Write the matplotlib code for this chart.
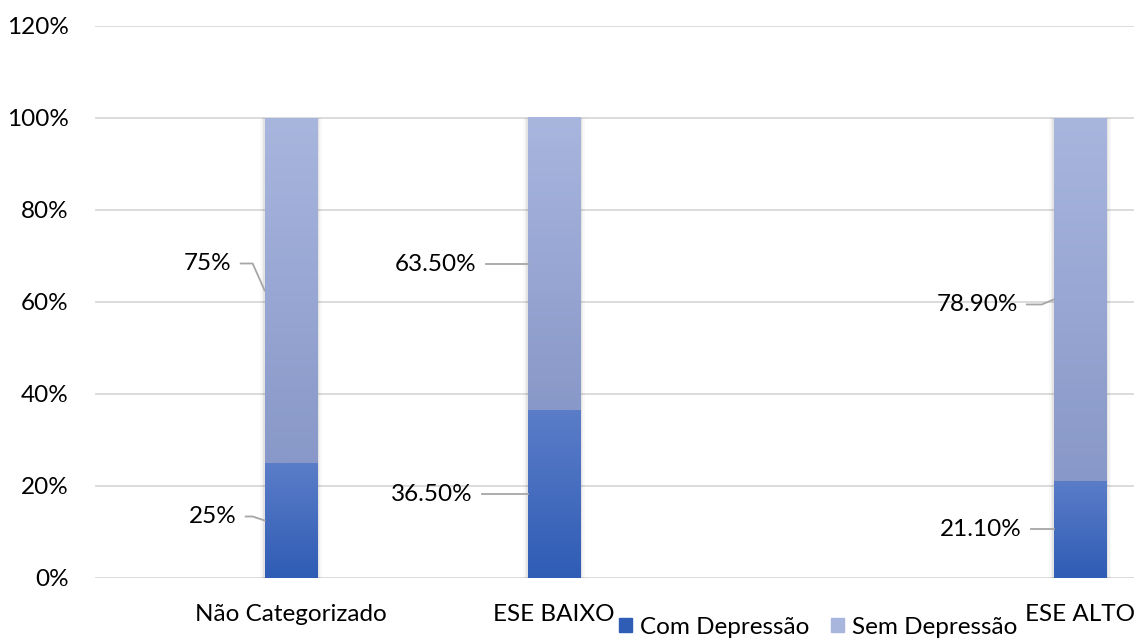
import numpy as np
import matplotlib
matplotlib.use("Agg")
import matplotlib.pyplot as plt
from matplotlib.patches import Rectangle, Patch
from matplotlib.transforms import offset_copy

plt.rcParams['font.family'] = ['Lato', 'DejaVu Sans']

# data
categories = ['Não Categorizado', 'ESE BAIXO', '', 'ESE ALTO']
com_depressao = [25.0, 36.5, None, 21.1]
sem_depressao = [75.0, 63.5, None, 78.9]
com_labels = ['25%', '36.50%', None, '21.10%']
sem_labels = ['75%', '63.50%', None, '78.90%']
series_names = ['Com Depressão', 'Sem Depressão']

# colours (top, bottom) of each gradient
com_grad = ('#5B7DC8', '#2F5CB5')
sem_grad = ('#A8B6DE', '#8898C8')

# label placement in pixels: (gap from bar to text right, vertical shift)
com_off = [(28, 4), (55, 0), None, (32, 0)]
sem_off = [(33, 27), (51, 0), None, (36, -5)]

FS = 17.5

fig = plt.figure(figsize=(11.34, 6.39), dpi=100)
ax = fig.add_axes([95 / 1134, 1 - 578 / 639, 1 - 95 / 1134, (578 - 26) / 639])

width = 0.2
x = np.arange(len(categories))


def hex2rgb(h):
    return np.array([int(h[i:i + 2], 16) / 255 for i in (1, 3, 5)])


def grad_bar(xc, y0, h, colors):
    top, bot = hex2rgb(colors[0]), hex2rgb(colors[1])
    t = np.linspace(0, 1, 64)[:, None]
    img = (top * (1 - t) + bot * t)[:, None, :]
    ax.imshow(img, extent=(xc - width / 2, xc + width / 2, y0, y0 + h),
              aspect='auto', origin='upper', zorder=3, interpolation='bilinear')


# soft shadow + bars
for i, xc in enumerate(x):
    if com_depressao[i] is None:
        continue
    total = com_depressao[i] + sem_depressao[i]
    for k, a in zip([0.03, 0.02, 0.01], [0.025, 0.035, 0.05]):
        ax.add_patch(Rectangle((xc - width / 2 - k * 0.6, -0.6), width + k * 1.2,
                               total + 0.6, color='black', alpha=a, lw=0, zorder=2))
    grad_bar(xc, 0, com_depressao[i], com_grad)
    grad_bar(xc, com_depressao[i], sem_depressao[i], sem_grad)

ax.set_xlim(-0.745, 3.205)
ax.set_ylim(0, 120)
ax.set_yticks(np.arange(0, 121, 20))
ax.set_yticklabels([f'{v}%' for v in range(0, 121, 20)])
ax.set_xticks(x)
ax.set_xticklabels(categories)
ax.tick_params(length=0, labelsize=FS, colors='black')
ax.tick_params(axis='y', pad=19)
ax.tick_params(axis='x', pad=19)
ax.grid(axis='y', color='#D9D9D9', lw=1.3, zorder=0)
ax.set_axisbelow(True)
for s in ax.spines.values():
    s.set_visible(False)


# data labels with leader lines
def label(xc, ymid, text, off):
    gap, dy = off
    xb = xc - width / 2
    base = ax.transData
    t_text = offset_copy(base, fig=fig, x=-gap, y=dy, units='dots')
    ax.text(xb, ymid, text, transform=t_text, ha='right', va='center',
            fontsize=FS, color='black', zorder=5)
    p1 = offset_copy(base, fig=fig, x=-gap + 9, y=dy, units='dots')
    p2 = offset_copy(base, fig=fig, x=-12, y=dy, units='dots')
    pts = np.array([p1.transform((xb, ymid)), p2.transform((xb, ymid)),
                    base.transform((xb, ymid))])
    fig.add_artist(plt.Line2D(pts[:, 0], pts[:, 1], transform=None,
                              color='#A6A6A6', lw=1.3, zorder=5))


for i, xc in enumerate(x):
    if com_depressao[i] is None:
        continue
    label(xc, com_depressao[i] / 2, com_labels[i], com_off[i])
    label(xc, com_depressao[i] + sem_depressao[i] / 2, sem_labels[i], sem_off[i])

handles = [Patch(color=com_grad[1]), Patch(color=sem_grad[0])]
fig.legend(handles, series_names, loc='center', bbox_to_anchor=(818 / 1134, 1 - 627 / 639),
           ncol=2, frameon=False, fontsize=FS, handlelength=0.55, handleheight=0.55,
           handletextpad=0.3, columnspacing=0.9, borderpad=0)

fig.savefig('out.png', dpi=100)
